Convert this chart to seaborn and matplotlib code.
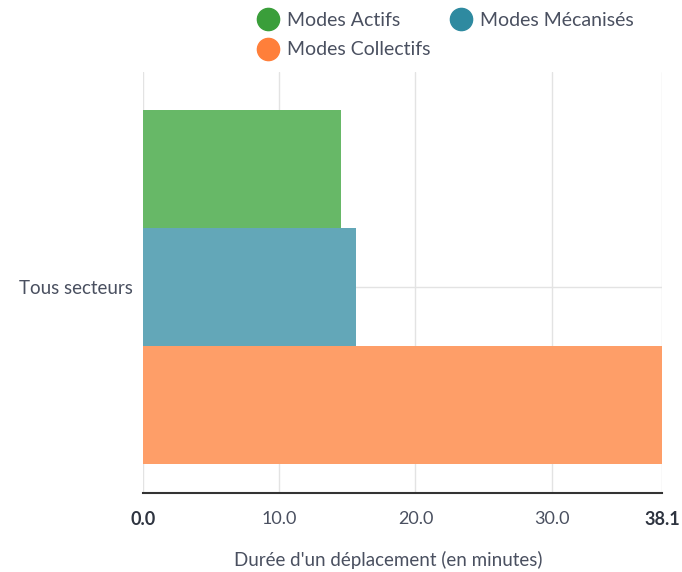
import matplotlib
matplotlib.use("Agg")
import matplotlib.pyplot as plt
from matplotlib.lines import Line2D
import seaborn as sns
import pandas as pd

categories = ["Tous secteurs"]
modes = ["Modes Actifs", "Modes Mécanisés", "Modes Collectifs"]
durations = [14.5, 15.6, 38.1]
tick_values = [0.0, 10.0, 20.0, 30.0, 38.1]
legend_colors = ["#3a9e3a", "#2e8aa0", "#ff7f3a"]
bar_colors = ["#67b867", "#63a7b8", "#fe9e68"]

df = pd.DataFrame({
    "secteur": categories * len(modes),
    "mode": modes,
    "duree": durations,
})

sns.set_theme(style="white")
plt.rcParams["font.family"] = ["Lato", "DejaVu Sans"]
text_color = "#4a5060"

fig = plt.figure(figsize=(6.82, 5.72), dpi=100)
ax = fig.add_axes([143 / 682, 1 - 493 / 572, 519 / 682, 421 / 572])

sns.barplot(
    data=df, x="duree", y="secteur", hue="mode", hue_order=modes,
    palette=bar_colors, orient="h", ax=ax, legend=False,
    width=0.8, saturation=1, edgecolor="none",
)

ax.set_xlim(0, 38.1)
ax.set_ylim(0.466, -0.486)
ax.set_xticks(tick_values)
ax.set_xticklabels([f"{v:.1f}" for v in tick_values])
for lbl, v in zip(ax.get_xticklabels(), tick_values):
    lbl.set_color("#2e3440" if v in (0.0, 38.1) else text_color)
    lbl.set_fontsize(13)
    if v in (0.0, 38.1):
        lbl.set_fontweight("bold")
ax.tick_params(axis="x", length=0, pad=13)
ax.tick_params(axis="y", length=0, pad=7, labelsize=13.5, labelcolor=text_color)

ax.grid(axis="x", color="#e3e3e3", linewidth=1)
ax.axhline(0, color="#e3e3e3", linewidth=1, zorder=0)
ax.set_axisbelow(True)
for side in ["top", "right", "left"]:
    ax.spines[side].set_visible(False)
ax.spines["bottom"].set_color("#333333")
ax.spines["bottom"].set_linewidth(1.5)

ax.set_ylabel("")
ax.set_xlabel("Durée d'un déplacement (en minutes)", fontsize=13.5,
              color=text_color)
ax.xaxis.set_label_coords(0.472, -0.137)

handles = [
    Line2D([], [], marker="o", linestyle="none", markersize=16,
           markerfacecolor=c, markeredgecolor=c, label=m)
    for m, c in zip(modes, legend_colors)
]
# place Actifs / Mécanisés on row one, Collectifs below
leg = fig.legend(
    handles=[handles[0], handles[2], handles[1]],
    loc="upper left", bbox_to_anchor=(245 / 682, 1.0), ncol=2,
    frameon=False, fontsize=14, handletextpad=0.35, columnspacing=1.0,
    labelspacing=0.65, borderaxespad=0.2, handlelength=1.2,
)
for t in leg.get_texts():
    t.set_color(text_color)

fig.savefig("out.png", dpi=100)
